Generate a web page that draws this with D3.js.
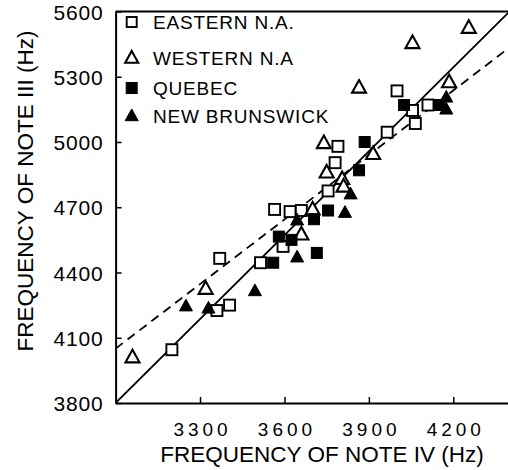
<!DOCTYPE html>
<html><head><meta charset="utf-8">
<script src="https://cdn.jsdelivr.net/npm/d3@7"></script>
<style>
body{margin:0;background:#fff}
svg{display:block}
text{font-family:"Liberation Sans",Arial,Helvetica,sans-serif;fill:#000}
</style>
</head><body>
<svg id="chart" width="508" height="470"></svg>
<script>
// ---- data ----
const xTicks = [3300, 3600, 3900, 4200];
const yTicks = [3800, 4100, 4400, 4700, 5000, 5300, 5600];

const easternX = [3200, 3360, 3405, 3370, 3515, 3595, 3565, 3620, 3660, 3755, 3780, 3790, 3965, 4000, 4055, 4065, 4110];
const easternY = [4045, 4225, 4250, 4465, 4445, 4520, 4690, 4680, 4685, 4775, 4905, 4980, 5045, 5235, 5145, 5085, 5170];

const westernX = [3060, 3320, 3660, 3700, 3750, 3740, 3805, 3810, 3915, 3865, 4055, 4255, 4185];
const westernY = [4010, 4325, 4575, 4690, 4860, 4995, 4830, 4795, 4945, 5250, 5455, 5525, 5275];

const quebecX = [3560, 3625, 3580, 3715, 3705, 3755, 3865, 3885, 4025, 4150];
const quebecY = [4445, 4550, 4565, 4490, 4645, 4685, 4870, 5000, 5170, 5170];

const brunswickX = [3250, 3330, 3495, 3645, 3645, 3835, 3815, 4175, 4175];
const brunswickY = [4245, 4235, 4315, 4470, 4640, 4760, 4675, 5205, 5150];

const solidLine = [[3000, 3800], [4400, 5600]];
const dashedLine = [[3000, 4050], [4400, 5435]];

const legendLabels = ["EASTERN N.A.", "WESTERN N.A", "QUEBEC", "NEW BRUNSWICK"];

// ---- chart ----
const svg = d3.select("#chart");
const x = d3.scaleLinear().domain([3000, 4400]).range([115.6, 509.6]);
const y = d3.scaleLinear().domain([3800, 5600]).range([403, 11.5]);

svg.append("defs").append("clipPath").attr("id", "clip")
  .append("rect").attr("x", x(3000)).attr("y", y(5600)).attr("width", 508 - x(3000)).attr("height", y(3800) - y(5600));

const plot = svg.append("g").attr("clip-path", "url(#clip)");

// regression lines
const lineGen = d3.line().x(d => x(d[0])).y(d => y(d[1]));
plot.append("path").attr("d", lineGen(solidLine)).attr("fill", "none").attr("stroke", "#000").attr("stroke-width", 1.8);
plot.append("path").attr("d", lineGen(dashedLine)).attr("fill", "none").attr("stroke", "#000").attr("stroke-width", 1.8)
  .attr("stroke-dasharray", "9,6");

// marker helpers
function square(g, cx, cy, s, filled) {
  g.append("rect").attr("x", cx - s / 2).attr("y", cy - s / 2).attr("width", s).attr("height", s)
    .attr("fill", filled ? "#000" : "#fff").attr("stroke", "#000").attr("stroke-width", filled ? 1 : 1.9);
}
function tri(g, cx, cy, s, filled) {
  const h = s * 0.9;
  const p = `M${cx},${cy - h * 0.6}L${cx + s / 2},${cy + h * 0.4}L${cx - s / 2},${cy + h * 0.4}Z`;
  g.append("path").attr("d", p).attr("fill", filled ? "#000" : "#fff").attr("stroke", "#000")
    .attr("stroke-width", filled ? 1 : 2.1).attr("stroke-linejoin", "miter");
}

easternX.forEach((v, i) => square(plot, x(v), y(easternY[i]), 11, false));
westernX.forEach((v, i) => tri(plot, x(v), y(westernY[i]), 14, false));
quebecX.forEach((v, i) => square(plot, x(v), y(quebecY[i]), 11, true));
brunswickX.forEach((v, i) => tri(plot, x(v), y(brunswickY[i]), 13, true));

// frame
svg.append("line").attr("x1", x(3000)).attr("x2", 508).attr("y1", y(5600)).attr("y2", y(5600))
  .attr("stroke", "#000").attr("stroke-width", 2);

// axes
const xAxis = svg.append("g").attr("transform", `translate(0,${y(3800)})`)
  .call(d3.axisBottom(x).tickValues(xTicks).tickSize(-6).tickSizeOuter(0).tickFormat(d3.format("d")));
xAxis.select(".domain").attr("stroke-width", 2);
xAxis.selectAll(".tick line").attr("stroke-width", 1.5);
xAxis.selectAll("text").attr("font-size", 19).attr("font-family", null).attr("y", 33).attr("dy", null)
  .style("letter-spacing", "4px").attr("dx", 2);

const yAxis = svg.append("g").attr("transform", `translate(${x(3000)},0)`)
  .call(d3.axisLeft(y).tickValues(yTicks).tickSize(-6).tickSizeOuter(0).tickFormat(d3.format("d")));
yAxis.select(".domain").attr("stroke-width", 2);
yAxis.selectAll(".tick line").attr("stroke-width", 1.5);
yAxis.selectAll("text").attr("font-size", 21).attr("font-family", null).attr("x", -13)
  .style("letter-spacing", "0.8px").attr("dx", 0.8).attr("dy", "0.36em");

// axis titles
svg.append("text").attr("x", 322).attr("y", 462).attr("text-anchor", "middle").attr("font-size", 22.5)
  .text("FREQUENCY OF NOTE IV (Hz)");
svg.append("text").attr("transform", "translate(33,191) rotate(-90)").attr("text-anchor", "middle").attr("font-size", 22.5)
  .text("FREQUENCY OF NOTE III (Hz)");

// legend
const legendY = [22, 58, 88, 116];
const lg = svg.append("g");
legendLabels.forEach((t, i) => {
  const cy = legendY[i];
  if (i === 0) square(lg, 131.7, cy, 10, false);
  if (i === 1) tri(lg, 131.7, cy, 13, false);
  if (i === 2) square(lg, 131.7, cy, 11, true);
  if (i === 3) tri(lg, 131.7, cy, 13, true);
  lg.append("text").attr("x", 153).attr("y", cy + 7).attr("font-size", 19)
    .style("letter-spacing", "0.8px").text(t);
});
</script>
</body></html>
